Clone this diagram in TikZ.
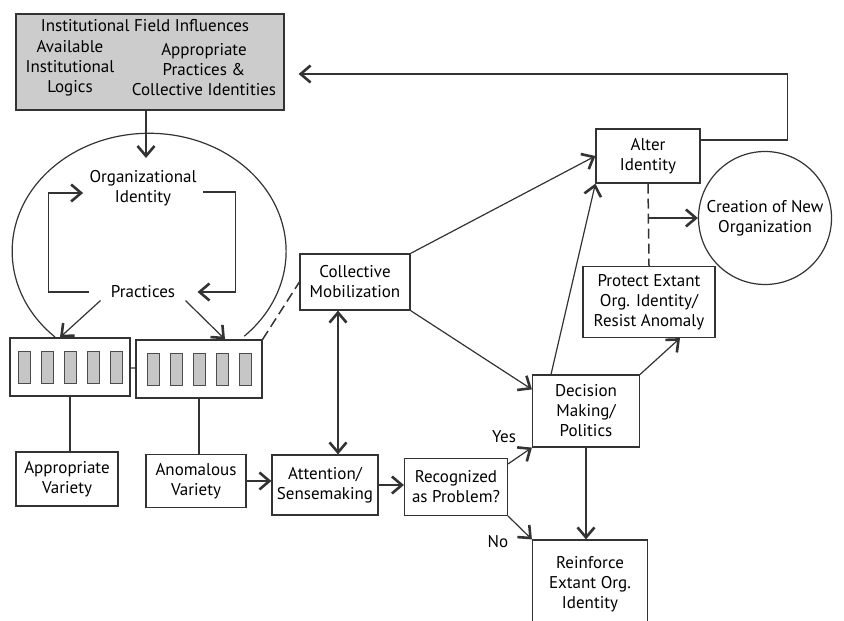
\documentclass[tikz,border=0pt]{standalone}
\usepackage{fontspec}
\setmainfont{PT Sans}
\usepackage{tikz}
\usetikzlibrary{arrows.meta,positioning,calc}
\tikzset{
  >={Straight Barb[length=5pt,width=8.5pt,line width=1.3pt]},
  idnode/.style={
    rectangle, draw=black!80, line width=0.6pt,
    align=center, font=\fontsize{8.5}{10}\selectfont, inner sep=2pt
  },
  idtext/.style={align=center, font=\fontsize{8.5}{10}\selectfont, inner sep=1pt},
  idfield/.style={idnode, fill=gray!40, minimum width=134pt, minimum height=48pt},
  idpract/.style={idnode, minimum height=29pt},
  idbar/.style={rectangle, draw=black!70, fill=gray!45, minimum width=6pt, minimum height=16pt, inner sep=0pt},
  idcircle/.style={circle, draw=black!80, line width=0.6pt, minimum size=66.5pt,
    align=center, font=\fontsize{8.5}{10}\selectfont, inner sep=1pt},
  idline/.style={line width=0.6pt, draw=black!80},
  idarrow/.style={idline, ->},
  idboth/.style={idline, <->},
  iddash/.style={idline, line width=0.75pt, dash pattern=on 5pt off 2.5pt},
  idlabel/.style={font=\fontsize{8.5}{10}\selectfont, inner sep=1pt},
}
\begin{document}
\begin{tikzpicture}[x=0.5pt, y=-0.5pt]
  \useasboundingbox (0,0) rectangle (844,620);
  % field level
  \node (infl) [idfield] at (150,62) {};
  \node (ttl) [idtext] at (145,26) {Institutional Field Influences};
  \node (logic) [idtext] at (70,68) {Available\\Institutional\\Logics};
  \node (appr) [idtext] at (204,70) {Appropriate\\Practices \&\\Collective Identities};
  % organization
  \draw[idline] (55,337) arc[start angle=226.6, end angle=-46, x radius=68.5pt, y radius=59pt];
  \node (oid) [idtext, inner xsep=3pt] at (143,188) {Organizational\\Identity};
  \node (prac) [idtext, inner xsep=11pt] at (143,292) {Practices};
  \coordinate (ctop) at (146,158);
  \draw[idarrow] (infl.south -| ctop) -- (ctop);
  \draw[idarrow] (prac.west) -- ++(-40,0) |- ([yshift=-2.5pt]oid.west);
  \draw[idarrow] ([yshift=-2pt]oid.east) -- ++(33,0) |- (prac.east);
  \node (pl) [idpract, minimum width=60pt] at (70,367) {};
  \node (pr) [idpract, minimum width=63pt] at (199,369) {};
  \foreach \k [count=\i] in {-2,...,2} {
    \node (plb\i) [idbar] at ($(pl)+(\k*23,0)$) {};
    \node (prb\i) [idbar] at ($(pr)+(\k*23,0)$) {};
  }
  \draw[idline] (pl) -- (pr);
  \draw[idarrow] ([xshift=6pt]prac.south west) -- ([xshift=-5pt]pl.north);
  \draw[idarrow] ([xshift=-6pt]prac.south east) -- ([xshift=13pt]pr.north);
  % variety and attention
  \node (apv) [idnode, minimum width=51pt, minimum height=27pt] at (67,479) {Appropriate\\Variety};
  \node (anv) [idnode, minimum width=50pt, minimum height=26.5pt] at (196,481) {Anomalous\\Variety};
  \node (att) [idnode, minimum width=53pt, minimum height=30pt] at (325,485) {Attention/\\Sensemaking};
  \node (rec) [idnode, minimum width=51.5pt, minimum height=28.5pt] at (456,487) {Recognized\\as Problem?};
  \node (cm) [idnode, minimum width=55pt, minimum height=28pt] at (355,282) {Collective\\Mobilization};
  \draw[idline] (pl.south) -- (pl.south |- apv.north);
  \draw[idline] (pr.south) -- (pr.south |- anv.north);
  \draw[idarrow] (anv.east) -- (anv.east -| att.west);
  \draw[idarrow] (att.east) -- (att.east -| rec.west);
  \draw[idboth] ([xshift=-8.5pt]cm.south) -- ([xshift=6.5pt]att.north);
  \draw[iddash] (pr.north east) -- (cm.west);
  % outcomes
  \node (dec) [idnode, minimum width=53.5pt, minimum height=36pt] at (586,411) {Decision\\Making/\\Politics};
  \node (rei) [idnode, minimum width=57.5pt, minimum height=44pt] at (590,584) {Reinforce\\Extant Org.\\Identity};
  \node (alt) [idnode, minimum width=52pt, minimum height=27pt] at (648,156) {Alter\\Identity};
  \node (pro) [idnode, minimum width=66pt, minimum height=35.5pt] at (649,302) {Protect Extant\\Org. Identity/\\Resist Anomaly};
  \node (cre) [idcircle] at (765,218) {Creation of New\\Organization};
  \node (yes) [idlabel] at (504,437) {Yes};
  \node (no) [idlabel] at (498,542) {No};
  \draw[idarrow] (cm.north east) -- (alt.west);
  \draw[idarrow] (cm.south east) -- ([yshift=-7.5pt]dec.north west);
  \draw[idarrow] ([yshift=-3pt]rec.north east) -- (dec.south west);
  \draw[idarrow] (rec.south east) -- (rei.north west);
  \draw[idarrow] (dec.south) -- (dec.south |- rei.north);
  \draw[idarrow] ([xshift=-17.5pt]dec.north) -- (alt.south west);
  \draw[idarrow] (dec.north east) -- ([xshift=15.5pt]pro.south);
  \draw[iddash] (alt.south) -- (pro.north);
  \draw[idarrow] (alt.south |- cre.west) -- (cre.west);
  \draw[idarrow] ([yshift=8pt]alt.east) -- ++(87,0) |- ([xshift=7pt,yshift=-6pt]infl.east);
\end{tikzpicture}
\end{document}
